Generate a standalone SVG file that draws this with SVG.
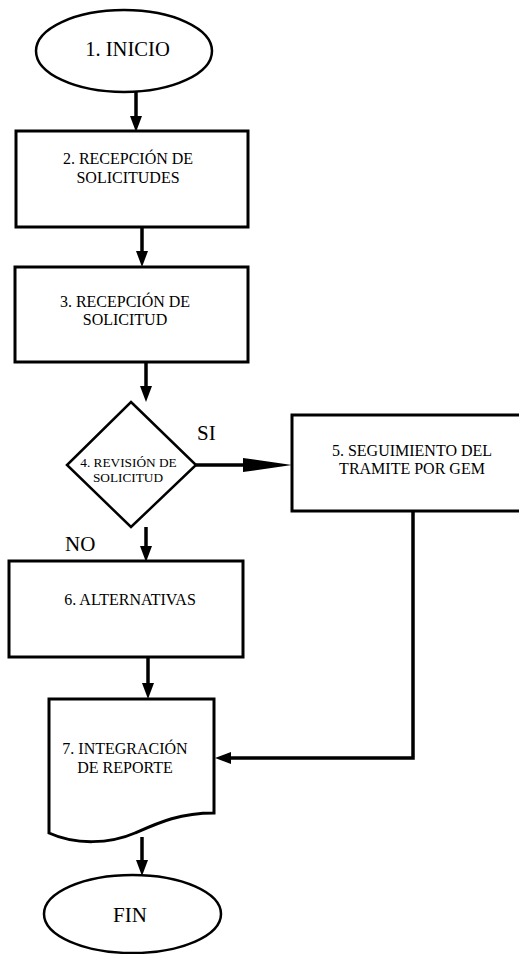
<svg xmlns="http://www.w3.org/2000/svg" width="519" height="954" viewBox="0 0 519 954">
  <style>
    text { font-family: "Liberation Serif", "Times New Roman", serif; fill: #000000; text-anchor: middle; }
    .shape { fill: #ffffff; stroke: #000000; stroke-width: 3; }
    .oval { fill: #ffffff; stroke: #000000; stroke-width: 2.5; }
    .big { font-size: 21px; }
    .mid { font-size: 16px; }
    .sm { font-size: 13.3px; }
    .flow { fill: none; stroke: #000000; stroke-width: 3.5; }
    .start { text-anchor: start; }
  </style>
  <defs>
    <marker id="head" viewBox="0 -7 17 14" refX="0" refY="0" markerWidth="17" markerHeight="14" markerUnits="userSpaceOnUse" orient="auto">
      <path d="M0,-6 L16,0 L0,6 Z" fill="#000000"/>
    </marker>
    <marker id="longHead" viewBox="0 -8 50 16" refX="0" refY="0" markerWidth="50" markerHeight="16" markerUnits="userSpaceOnUse" orient="auto">
      <path d="M0,-7 L49,0 L0,7 Z" fill="#000000"/>
    </marker>
  </defs>
  <rect width="519" height="954" fill="#ffffff"/>

  <!-- connectors -->
  <g id="connectors">
    <path class="flow" d="M136,92 V116" marker-end="url(#head)"/>
    <path class="flow" d="M142,227 V251" marker-end="url(#head)"/>
    <path class="flow" d="M146,362 V386" marker-end="url(#head)"/>
    <path class="flow" d="M196,465 H243" marker-end="url(#longHead)"/>
    <path class="flow" d="M146,527 V546" marker-end="url(#head)"/>
    <path class="flow" d="M148,657 V683" marker-end="url(#head)"/>
    <path class="flow" d="M413,511 V758 H231" marker-end="url(#head)"/>
    <path class="flow" d="M142,837 V860" marker-end="url(#head)"/>
  </g>

  <!-- start -->
  <g id="n1">
    <ellipse class="oval" cx="124" cy="51" rx="88" ry="41"/>
    <text style="font-size:20.6px" x="127.5" y="56">1. INICIO</text>
  </g>

  <g id="n2">
    <rect class="shape" x="16" y="131" width="232" height="96"/>
    <text class="mid" x="128" y="164">2. RECEPCIÓN DE</text>
    <text class="mid" x="128" y="183">SOLICITUDES</text>
  </g>

  <g id="n3">
    <rect class="shape" x="15" y="267" width="233" height="95"/>
    <text class="mid" x="125" y="307">3. RECEPCIÓN DE</text>
    <text class="mid" x="125" y="325">SOLICITUD</text>
  </g>

  <!-- decision -->
  <g id="n4">
    <polygon class="oval" points="131,402 196,465 131,527 67,465"/>
    <text class="sm" x="128.5" y="467">4. REVISIÓN DE</text>
    <text class="sm" x="128" y="482">SOLICITUD</text>
  </g>

  <g id="n5">
    <rect class="shape" x="292" y="415" width="240" height="96"/>
    <text class="mid" x="412" y="456">5. SEGUIMIENTO DEL</text>
    <text class="mid" x="412" y="474">TRAMITE POR GEM</text>
  </g>

  <g id="n6">
    <rect class="shape" x="9" y="561" width="234" height="96"/>
    <text class="mid" x="130" y="605">6. ALTERNATIVAS</text>
  </g>

  <!-- document -->
  <g id="n7">
    <path class="shape" d="M49,699 H214 V813 C180,813 160,822 135,833 C110,844 75,845 49,833 Z"/>
    <text class="mid" x="125" y="754">7. INTEGRACIÓN</text>
    <text class="mid" x="125" y="773">DE REPORTE</text>
  </g>

  <g id="n8">
    <ellipse class="oval" cx="132.5" cy="914" rx="88.5" ry="39"/>
    <text class="big" x="130" y="922">FIN</text>
  </g>

  <!-- branch labels -->
  <g id="labels">
    <text class="big start" x="197" y="440">SI</text>
    <text class="big start" x="65" y="551">NO</text>
  </g>
</svg>
